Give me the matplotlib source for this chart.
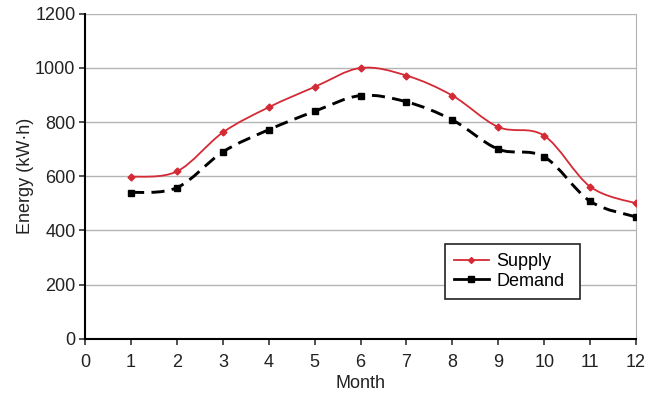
import matplotlib.pyplot as plt
import matplotlib as mpl
import numpy as np
from matplotlib.path import Path
from matplotlib.patches import PathPatch
from matplotlib.lines import Line2D

mpl.rcParams.update({'font.size': 13, 'font.family': 'Liberation Sans'})

months = [1, 2, 3, 4, 5, 6, 7, 8, 9, 10, 11, 12]
supply = [598, 618, 762, 855, 930, 1000, 972, 898, 782, 750, 562, 500]
demand = [540, 558, 690, 772, 840, 898, 875, 808, 700, 672, 508, 450]


def smooth_path(x, y):
    # excel-style smoothed line: bezier segments through the points
    p = np.column_stack([x, y]).astype(float)
    ext = np.vstack([p[0], p, p[-1]])
    verts = [p[0]]
    codes = [Path.MOVETO]
    for i in range(len(p) - 1):
        p0, p1, p2, p3 = ext[i], ext[i + 1], ext[i + 2], ext[i + 3]
        verts += [p1 + (p2 - p0) / 6, p2 - (p3 - p1) / 6, p2]
        codes += [Path.CURVE4] * 3
    return Path(verts, codes)


fig = plt.figure(figsize=(6.55, 3.94), dpi=100)
ax = fig.add_axes([0.130, 0.140, 0.841, 0.825])

red = '#d42a35'
ax.add_patch(PathPatch(smooth_path(months, supply), fill=False, edgecolor=red, lw=1.3, zorder=3))
ax.plot(months, supply, ls='none', marker='D', markersize=3.5, color=red, zorder=4)

ax.add_patch(PathPatch(smooth_path(months, demand), fill=False, edgecolor='black', lw=2.1,
                       linestyle=(0, (4.5, 2.5)), zorder=3))
ax.plot(months, demand, ls='none', marker='s', markersize=5, color='black', zorder=4)

ax.set_xlim(0, 12)
ax.set_ylim(0, 1200)
ax.set_xticks(range(0, 13))
ax.set_yticks(range(0, 1201, 200))
ax.yaxis.grid(True, color='#b4b4b4', lw=1)
ax.set_axisbelow(True)
ax.spines['top'].set_visible(False)
ax.spines['right'].set_color('#b4b4b4')
ax.spines['left'].set_linewidth(1.5)
ax.spines['bottom'].set_linewidth(1.5)
ax.tick_params(length=4, width=1.2, color='#333333', labelcolor='#222222')
ax.tick_params(axis='x', pad=7)
ax.tick_params(axis='y', pad=3)
ax.set_xlabel('Month', labelpad=3, color='#222222')
ax.set_ylabel('Energy (kW·h)', labelpad=0.5, color='#222222')

handles = [Line2D([], [], color=red, lw=1.3, marker='D', markersize=3),
           Line2D([], [], color='black', lw=2, marker='s', markersize=4)]
leg = ax.legend(handles, ['Supply', 'Demand'], loc='upper left',
                bbox_to_anchor=(0.653, 0.0, 0.245, 0.292), mode='expand',
                fancybox=False, edgecolor='#222222', framealpha=1, handlelength=1.95,
                borderpad=0.5, labelspacing=0.15, handletextpad=0.4, borderaxespad=0)
leg.get_frame().set_linewidth(1.2)

fig.savefig('out.png', dpi=100)
